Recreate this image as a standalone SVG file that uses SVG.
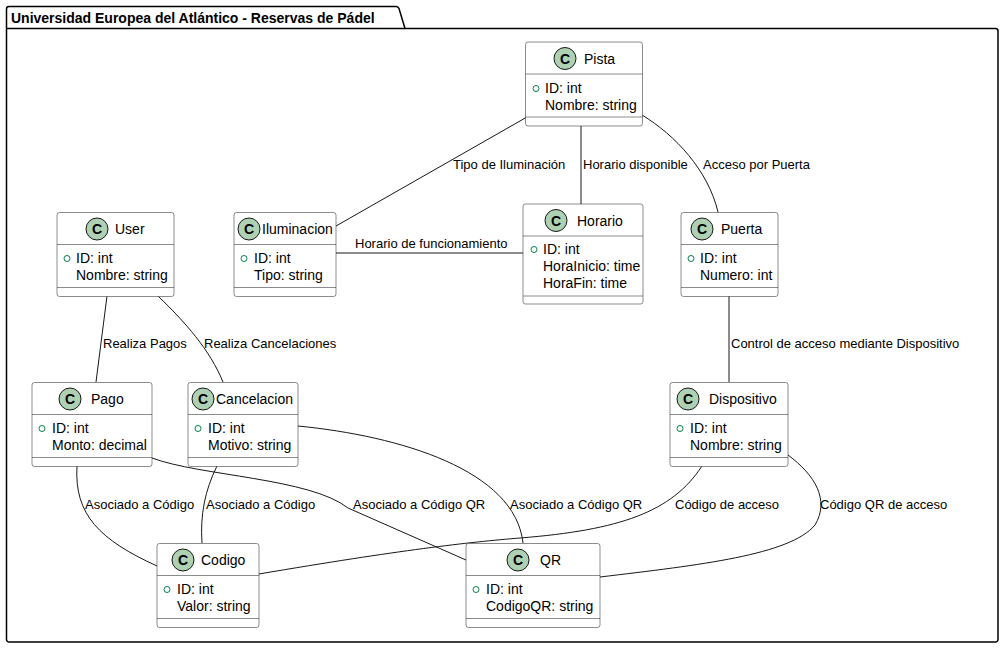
<svg xmlns="http://www.w3.org/2000/svg" width="1004" height="648" viewBox="0 0 1004 648">
<style>
.box{fill:#FFFFFF;stroke:#181818;stroke-width:0.5}
.sep{stroke:#181818;stroke-width:0.5}
.spot{fill:#ADD1B2;stroke:#181818;stroke-width:1}
.c{font-family:"Liberation Sans",Arial,sans-serif;font-size:14px;font-weight:bold;fill:#000;text-anchor:middle}
.name{font-family:"Liberation Sans",Arial,sans-serif;font-size:14px;fill:#000}
.attr{font-family:"Liberation Sans",Arial,sans-serif;font-size:14px;fill:#000}
.vis{fill:none;stroke:#038048;stroke-width:1}
.lbl{font-family:"Liberation Sans",Arial,sans-serif;font-size:13px;fill:#000}
.edge{fill:none;stroke:#181818;stroke-width:1}
</style>
<g id="package">
<path d="M9,6.5 L396,6.5 A3,3 0 0 1 399,8.5 L405,28.5 L995.5,28.5 A2.5,2.5 0 0 1 998,31 L998,639.5 A2.5,2.5 0 0 1 995.5,642 L9,642 A2.5,2.5 0 0 1 6.5,639.5 L6.5,9 A2.5,2.5 0 0 1 9,6.5 Z" fill="none" stroke="#000" stroke-width="1.5"/>
<line x1="6.5" y1="28.5" x2="405" y2="28.5" stroke="#000" stroke-width="1.5"/>
<text x="11" y="23" font-family="'Liberation Sans',Arial,sans-serif" font-size="14" font-weight="bold">Universidad Europea del Atlántico - Reservas de Pádel</text>
</g>
<g id="connectors">
<path class="edge" d="M527,117 L336,226"/>
<text class="lbl" x="453" y="169">Tipo de Iluminación</text>
<path class="edge" d="M581,126 L581,204"/>
<text class="lbl" x="583" y="169">Horario disponible</text>
<path class="edge" d="M642,115 C675,135 708,170 718,212"/>
<text class="lbl" x="703" y="169">Acceso por Puerta</text>
<path class="edge" d="M336,253 L523,253"/>
<text class="lbl" x="355" y="248">Horario de funcionamiento</text>
<path class="edge" d="M107,296 L96,382"/>
<text class="lbl" x="103" y="348">Realiza Pagos</text>
<path class="edge" d="M158,296 C185,322 210,350 223,382"/>
<text class="lbl" x="204" y="348">Realiza Cancelaciones</text>
<path class="edge" d="M729,296 L729,382"/>
<text class="lbl" x="731" y="348">Control de acceso mediante Dispositivo</text>
<path class="edge" d="M77,466 C74,515 100,540 157,566"/>
<text class="lbl" x="85" y="509">Asociado a Código</text>
<path class="edge" d="M217,466 C205,490 200,515 202,543"/>
<text class="lbl" x="206" y="509">Asociado a Código</text>
<path class="edge" d="M152,458 C200,476 310,478 348,508 L466,560"/>
<text class="lbl" x="353" y="509">Asociado a Código QR</text>
<path class="edge" d="M298,426 C400,436 515,470 523,543"/>
<text class="lbl" x="510" y="509">Asociado a Código QR</text>
<path class="edge" d="M702,466 C672,512 620,530 520,538 C470,542 400,550 259,574"/>
<text class="lbl" x="675" y="509">Código de acceso</text>
<path class="edge" d="M788,455 C815,475 830,500 815,525 C790,555 700,565 600,577"/>
<text class="lbl" x="820" y="509">Código QR de acceso</text>
</g>
<g id="Pista">
<rect class="box" x="525.5" y="42" width="117" height="84" rx="2.5"/>
<line class="sep" x1="525.5" y1="74" x2="642.5" y2="74"/>
<line class="sep" x1="525.5" y1="117" x2="642.5" y2="117"/>
<circle class="spot" cx="565" cy="58.5" r="11"/><text class="c" x="565" y="63.5">C</text>
<text class="name" x="584" y="63.5">Pista</text>
<circle class="vis" cx="536" cy="88.5" r="3"/>
<text class="attr" x="545" y="93">ID: int</text>
<text class="attr" x="545" y="110">Nombre: string</text>
</g>
<g id="User">
<rect class="box" x="57" y="212.5" width="117" height="84" rx="2.5"/>
<line class="sep" x1="57" y1="244.5" x2="174" y2="244.5"/>
<line class="sep" x1="57" y1="287.5" x2="174" y2="287.5"/>
<circle class="spot" cx="97" cy="229" r="11"/><text class="c" x="97" y="234">C</text>
<text class="name" x="115" y="234">User</text>
<circle class="vis" cx="67" cy="258.5" r="3"/>
<text class="attr" x="76" y="263">ID: int</text>
<text class="attr" x="76" y="280">Nombre: string</text>
</g>
<g id="Iluminacion">
<rect class="box" x="234" y="212.5" width="102" height="84" rx="2.5"/>
<line class="sep" x1="234" y1="244.5" x2="336" y2="244.5"/>
<line class="sep" x1="234" y1="287.5" x2="336" y2="287.5"/>
<circle class="spot" cx="249" cy="229" r="11"/><text class="c" x="249" y="234">C</text>
<text class="name" x="262" y="234">Iluminacion</text>
<circle class="vis" cx="244" cy="258.5" r="3"/>
<text class="attr" x="254" y="263">ID: int</text>
<text class="attr" x="254" y="280">Tipo: string</text>
</g>
<g id="Horario">
<rect class="box" x="523" y="204" width="120" height="100" rx="2.5"/>
<line class="sep" x1="523" y1="236" x2="643" y2="236"/>
<line class="sep" x1="523" y1="296" x2="643" y2="296"/>
<circle class="spot" cx="556" cy="220.5" r="11"/><text class="c" x="556" y="225.5">C</text>
<text class="name" x="577" y="225.5">Horario</text>
<circle class="vis" cx="534" cy="249.5" r="3"/>
<text class="attr" x="543" y="254">ID: int</text>
<text class="attr" x="543" y="271">HoraInicio: time</text>
<text class="attr" x="543" y="288">HoraFin: time</text>
</g>
<g id="Puerta">
<rect class="box" x="681" y="212.5" width="97" height="84" rx="2.5"/>
<line class="sep" x1="681" y1="244.5" x2="778" y2="244.5"/>
<line class="sep" x1="681" y1="287.5" x2="778" y2="287.5"/>
<circle class="spot" cx="702" cy="229" r="11"/><text class="c" x="702" y="234">C</text>
<text class="name" x="721" y="234">Puerta</text>
<circle class="vis" cx="691" cy="258.5" r="3"/>
<text class="attr" x="700" y="263">ID: int</text>
<text class="attr" x="700" y="280">Numero: int</text>
</g>
<g id="Pago">
<rect class="box" x="32" y="382.5" width="120" height="84" rx="2.5"/>
<line class="sep" x1="32" y1="414.5" x2="152" y2="414.5"/>
<line class="sep" x1="32" y1="457.5" x2="152" y2="457.5"/>
<circle class="spot" cx="70" cy="399" r="11"/><text class="c" x="70" y="404">C</text>
<text class="name" x="91" y="404">Pago</text>
<circle class="vis" cx="42" cy="428.5" r="3"/>
<text class="attr" x="52" y="433">ID: int</text>
<text class="attr" x="52" y="450">Monto: decimal</text>
</g>
<g id="Cancelacion">
<rect class="box" x="188" y="382.5" width="110" height="84" rx="2.5"/>
<line class="sep" x1="188" y1="414.5" x2="298" y2="414.5"/>
<line class="sep" x1="188" y1="457.5" x2="298" y2="457.5"/>
<circle class="spot" cx="203" cy="399" r="11"/><text class="c" x="203" y="404">C</text>
<text class="name" x="216" y="404">Cancelacion</text>
<circle class="vis" cx="198" cy="428.5" r="3"/>
<text class="attr" x="208" y="433">ID: int</text>
<text class="attr" x="208" y="450">Motivo: string</text>
</g>
<g id="Dispositivo">
<rect class="box" x="670" y="382.5" width="118" height="84" rx="2.5"/>
<line class="sep" x1="670" y1="414.5" x2="788" y2="414.5"/>
<line class="sep" x1="670" y1="457.5" x2="788" y2="457.5"/>
<circle class="spot" cx="688" cy="399" r="11"/><text class="c" x="688" y="404">C</text>
<text class="name" x="709" y="404">Dispositivo</text>
<circle class="vis" cx="680" cy="428.5" r="3"/>
<text class="attr" x="690" y="433">ID: int</text>
<text class="attr" x="690" y="450">Nombre: string</text>
</g>
<g id="Codigo">
<rect class="box" x="157" y="543.5" width="102" height="84" rx="2.5"/>
<line class="sep" x1="157" y1="575.5" x2="259" y2="575.5"/>
<line class="sep" x1="157" y1="618.5" x2="259" y2="618.5"/>
<circle class="spot" cx="183" cy="560" r="11"/><text class="c" x="183" y="565">C</text>
<text class="name" x="201" y="565">Codigo</text>
<circle class="vis" cx="167" cy="589.5" r="3"/>
<text class="attr" x="177" y="594">ID: int</text>
<text class="attr" x="177" y="611">Valor: string</text>
</g>
<g id="QR">
<rect class="box" x="466" y="543.5" width="134" height="84" rx="2.5"/>
<line class="sep" x1="466" y1="575.5" x2="600" y2="575.5"/>
<line class="sep" x1="466" y1="618.5" x2="600" y2="618.5"/>
<circle class="spot" cx="518" cy="560" r="11"/><text class="c" x="518" y="565">C</text>
<text class="name" x="540" y="565">QR</text>
<circle class="vis" cx="476" cy="589.5" r="3"/>
<text class="attr" x="486" y="594">ID: int</text>
<text class="attr" x="486" y="611">CodigoQR: string</text>
</g>
</svg>
